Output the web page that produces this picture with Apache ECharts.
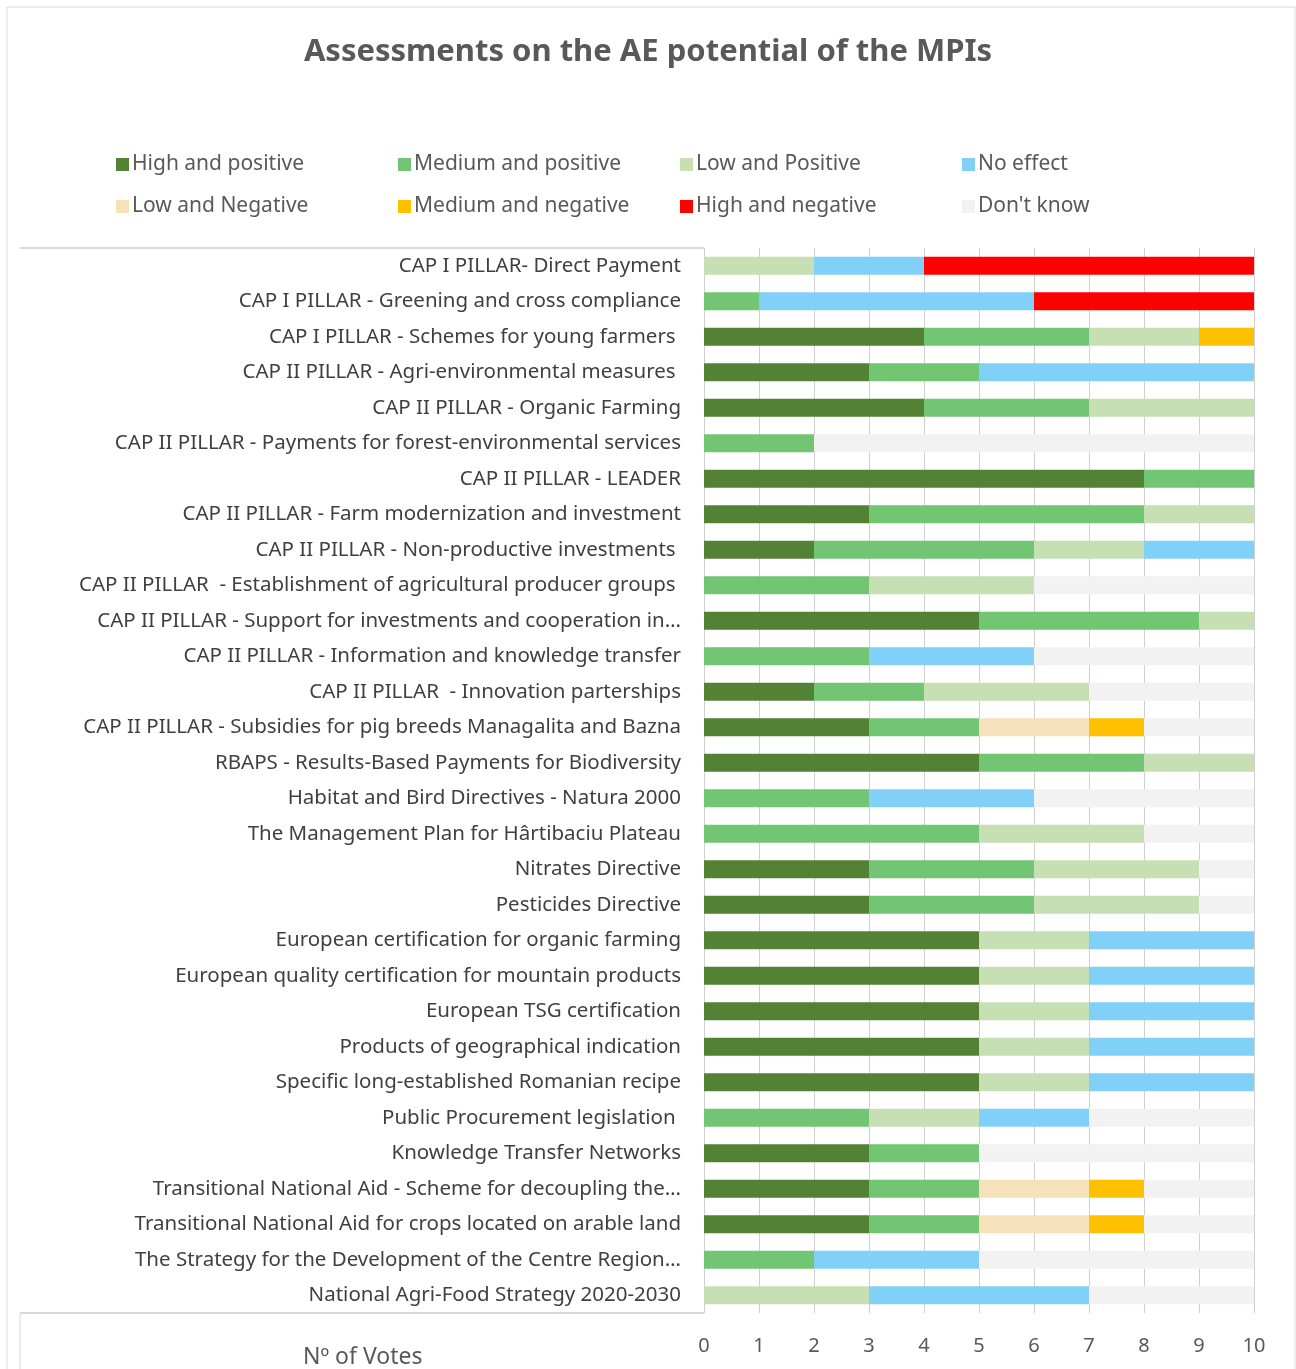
<!DOCTYPE html>
<html>
<head>
<meta charset="utf-8">
<title>Assessments on the AE potential of the MPIs</title>
<script src="https://cdn.jsdelivr.net/npm/echarts@6/dist/echarts.min.js"></script>
<style>
  html, body { margin: 0; padding: 0; background: #fff; }
  #main { width: 1296px; height: 1369px; }
</style>
</head>
<body>
<div id="main"></div>
<script>
// categories, top to bottom
var categories = [
  'CAP I PILLAR- Direct Payment',
  'CAP I PILLAR - Greening and cross compliance',
  'CAP I PILLAR - Schemes for young farmers ',
  'CAP II PILLAR - Agri-environmental measures ',
  'CAP II PILLAR - Organic Farming',
  'CAP II PILLAR - Payments for forest-environmental services',
  'CAP II PILLAR - LEADER',
  'CAP II PILLAR - Farm modernization and investment',
  'CAP II PILLAR - Non-productive investments ',
  'CAP II PILLAR  - Establishment of agricultural producer groups ',
  'CAP II PILLAR - Support for investments and cooperation in…',
  'CAP II PILLAR - Information and knowledge transfer',
  'CAP II PILLAR  - Innovation parterships',
  'CAP II PILLAR - Subsidies for pig breeds Managalita and Bazna',
  'RBAPS - Results-Based Payments for Biodiversity',
  'Habitat and Bird Directives - Natura 2000',
  'The Management Plan for Hârtibaciu Plateau',
  'Nitrates Directive',
  'Pesticides Directive',
  'European certification for organic farming',
  'European quality certification for mountain products',
  'European TSG certification',
  'Products of geographical indication',
  'Specific long-established Romanian recipe',
  'Public Procurement legislation ',
  'Knowledge Transfer Networks',
  'Transitional National Aid - Scheme for decoupling the…',
  'Transitional National Aid for crops located on arable land',
  'The Strategy for the Development of the Centre Region…',
  'National Agri-Food Strategy 2020-2030'
];

var seriesNames = ['High and positive', 'Medium and positive', 'Low and Positive', 'No effect',
  'Low and Negative', 'Medium and negative', 'High and negative', "Don't know"];

var highPos   = [0,0,4,3,4,0,8,3,2,0,5,0,2,3,5,0,0,3,3,5,5,5,5,5,0,3,3,3,0,0];
var mediumPos = [0,1,3,2,3,2,2,5,4,3,4,3,2,2,3,3,5,3,3,0,0,0,0,0,3,2,2,2,2,0];
var lowPos    = [2,0,2,0,3,0,0,2,2,3,1,0,3,0,2,0,3,3,3,2,2,2,2,2,2,0,0,0,0,3];
var noEffect  = [2,5,0,5,0,0,0,0,2,0,0,3,0,0,0,3,0,0,0,3,3,3,3,3,2,0,0,0,3,4];
var lowNeg    = [0,0,0,0,0,0,0,0,0,0,0,0,0,2,0,0,0,0,0,0,0,0,0,0,0,0,2,2,0,0];
var mediumNeg = [0,0,1,0,0,0,0,0,0,0,0,0,0,1,0,0,0,0,0,0,0,0,0,0,0,0,1,1,0,0];
var highNeg   = [6,4,0,0,0,0,0,0,0,0,0,0,0,0,0,0,0,0,0,0,0,0,0,0,0,0,0,0,0,0];
var dontKnow  = [0,0,0,0,0,8,0,0,0,4,0,4,3,2,0,4,2,1,1,0,0,0,0,0,3,5,2,2,5,3];

var xTicks = [0, 1, 2, 3, 4, 5, 6, 7, 8, 9, 10];

var colors = ['#548235', '#72C673', '#C6E0B4', '#81D0F8', '#F7E1BA', '#FFC000', '#FF0000', '#F2F2F2'];
var values = [highPos, mediumPos, lowPos, noEffect, lowNeg, mediumNeg, highNeg, dontKnow];

var myChart = echarts.init(document.getElementById('main'));

var series = [];
var legends = [];
for (var i = 0; i < seriesNames.length; i++) {
  series.push({
    name: seriesNames[i],
    type: 'bar',
    stack: 'total',
    barWidth: 18,
    itemStyle: { color: colors[i] },
    data: values[i]
  });
  // legend laid out as a 4 x 2 table
  legends.push({
    data: [seriesNames[i]],
    left: 111 + (i % 4) * 282,
    top: 149 + Math.floor(i / 4) * 42,
    itemWidth: 13,
    itemHeight: 13,
    itemGap: 4,
    icon: 'rect',
    textStyle: { color: '#595959', fontSize: 21, fontFamily: 'Noto Sans', padding: [0, 0, 0, -2] }
  });
}

var option = {
  backgroundColor: '#fff',
  animation: false,
  title: {
    text: 'Assessments on the AE potential of the MPIs',
    left: 'center',
    top: 32,
    textStyle: { color: '#595959', fontSize: 31, fontWeight: 'bold', fontFamily: 'Noto Sans' }
  },
  legend: legends,
  grid: { left: 704, right: 42, top: 248, bottom: 56 },
  xAxis: {
    type: 'value',
    min: 0,
    max: 10,
    interval: 1,
    axisLine: { show: false },
    axisTick: { show: false },
    axisLabel: {
      color: '#595959', fontSize: 20, fontFamily: 'Noto Sans', margin: 23,
      formatter: function (v) { return xTicks.indexOf(v) >= 0 ? String(v) : ''; }
    },
    splitLine: { show: true, lineStyle: { color: '#D0D0D0', width: 1 } }
  },
  yAxis: {
    type: 'category',
    inverse: true,
    data: categories,
    axisLine: { show: false },
    axisTick: { show: false },
    axisLabel: { color: '#404040', fontSize: 20.5, fontFamily: 'Noto Sans', margin: 23 }
  },
  graphic: [
    { type: 'rect', shape: { x: 7, y: 7, width: 1288, height: 1380 }, style: { fill: 'none', stroke: '#D9D9D9', lineWidth: 1 }, silent: true },
    { type: 'line', shape: { x1: 20, y1: 248, x2: 704, y2: 248 }, style: { stroke: '#D9D9D9', lineWidth: 2 }, silent: true },
    { type: 'line', shape: { x1: 20, y1: 1313, x2: 704, y2: 1313 }, style: { stroke: '#D9D9D9', lineWidth: 2 }, silent: true },
    { type: 'line', shape: { x1: 20, y1: 1313, x2: 20, y2: 1369 }, style: { stroke: '#D9D9D9', lineWidth: 1 }, silent: true },
    { type: 'text', left: 303, top: 1346, style: { text: 'Nº of Votes', fill: '#595959', fontSize: 23, fontFamily: 'Noto Sans' } }
  ],
  series: series
};

if (option && typeof option === 'object') {
  myChart.setOption(option);
}
window.addEventListener('resize', function () {
  myChart.resize();
});
</script>
</body>
</html>
